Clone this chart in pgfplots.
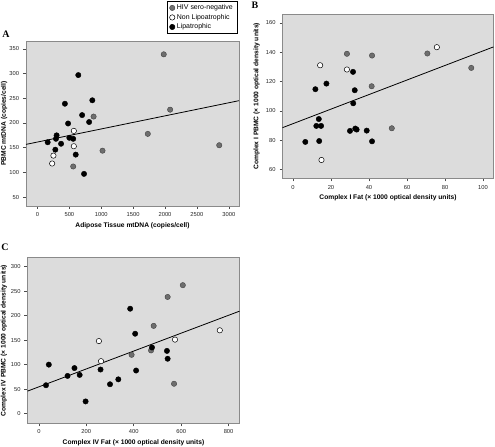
\documentclass[border=0pt]{standalone}
\usepackage{pgfplots}
\pgfplotsset{compat=1.18}
\usepackage{fontspec}
\setmainfont{Liberation Sans}
\newfontfamily\serifb{Liberation Serif}
\definecolor{bgc}{HTML}{DCDCDC}
\definecolor{axc}{HTML}{8A8A8A}
\definecolor{grayd}{HTML}{6E6E6E}
\pgfplotsset{
  panel/.style={
    scale only axis,
    axis background/.style={fill=bgc},
    axis line style={draw=axc, line width=0.9bp},
    tick style={draw=black!70, line width=0.5bp},
    tick align=outside,
    major tick length=3bp,
    xtick pos=bottom, ytick pos=left,
    ticklabel style={font=\fontsize{5.8}{6}\selectfont, text=black!85},
    label style={font=\bfseries\fontsize{6.7}{7.5}\selectfont},
    /pgf/number format/assume math mode=true,
    /pgf/number format/1000 sep={},
    yticklabel style={xshift=-0.5bp},
    xlabel style={at={(axis description cs:0.5,-0.118)}, anchor=center},
    clip=false,
  },
  gr/.style={only marks, mark=*, mark size=2.7pt, mark options={fill=grayd, draw=black!75, line width=0.4bp}},
  wh/.style={only marks, mark=*, mark size=2.7pt, mark options={fill=white, draw=black, line width=0.5bp}},
  bk/.style={only marks, mark=*, mark size=2.7pt, mark options={fill=black, draw=black}},
}
\begin{document}
\begin{tikzpicture}
\path[use as bounding box] (0,0) rectangle (495bp,447bp);
% Panel A
\begin{axis}[panel, at={(26bp,406bp)}, anchor=north west,
  width=213bp, height=165bp,
  xmin=-180, xmax=3160, ymin=32, ymax=366,
  xtick={0,500,...,3000}, ytick={50,100,...,350},
  xlabel={Adipose Tissue mtDNA (copies/cell)},
  ylabel={PBMC mtDNA (copies/cell)},
  ylabel style={at={(axis description cs:-0.103,0.5)}, anchor=center},
  legend style={at={(1,1)}, anchor=south east, xshift=-2bp, yshift=7bp,
    draw=black, line width=0.5bp, fill=white,
    font=\fontsize{7}{8}\selectfont, row sep=-1bp, inner xsep=2bp, inner ysep=1.5bp,
    legend cell align=left},
  legend image post style={}]
\addplot[gr] coordinates {(1980,339) (2080,227) (1730,178) (2850,155) (880,213) (1020,144) (560,112)};
\addlegendentry{HIV sero-negative}
\addplot[wh] coordinates {(570,184) (570,153) (250,134) (230,118)};
\addlegendentry{Non Lipoatrophic}
\addplot[bk] coordinates {(640,297) (860,246) (430,239) (700,216) (810,202) (480,199) (300,175) (290,168) (500,170) (560,168) (160,161) (370,158) (280,146) (600,136) (730,97)};
\addlegendentry{Lipatrophic}
\addplot[black, line width=0.8bp, forget plot] coordinates {(-180,156.7) (3160,245.2)};
\end{axis}
% Panel B
\begin{axis}[panel, at={(282.5bp,433bp)}, anchor=north west,
  width=211bp, height=164.5bp,
  xmin=-5.5, xmax=105.5, ymin=54, ymax=166,
  xtick={0,20,...,100}, ytick={60,80,...,160},
  xlabel={Complex I Fat (\texttimes{} 1000 optical density units)},
  ylabel={Complex I PBMC (\texttimes{} 1000 optical density units)},
  ylabel style={at={(axis description cs:-0.122,0.5)}, anchor=center}]
\addplot[gr] coordinates {(28.4,138.9) (41.6,137.7) (70.7,139.1) (93.8,129.3) (41.4,116.8) (52.0,88.2)};
\addplot[wh] coordinates {(14.3,131.1) (28.4,128.2) (75.7,143.4) (15.0,66.6)};
\addplot[bk] coordinates {(11.8,114.8) (17.6,118.6) (31.6,126.6) (32.5,114.1) (31.7,105.2) (13.6,94.5) (12.3,89.8) (14.8,89.8) (30.0,86.4) (32.8,88.0) (33.5,87.3) (38.8,86.6) (6.5,78.9) (13.8,79.5) (41.6,79.3)};
\addplot[black, line width=0.8bp] coordinates {(-5.5,88.6) (105.5,143.6)};
\end{axis}
% Panel C
\begin{axis}[panel, at={(27.5bp,189.3bp)}, anchor=north west,
  width=212bp, height=165.6bp,
  xmin=-48, xmax=846, ymin=-19.6, ymax=318,
  xtick={0,200,...,800}, ytick={0,50,...,300},
  xlabel={Complex IV Fat (\texttimes{} 1000 optical density units)},
  ylabel={Complex IV PBMC (\texttimes{} 1000 optical density units)},
  ylabel style={at={(axis description cs:-0.111,0.5)}, anchor=center}]
\addplot[gr] coordinates {(607,262) (543,238) (484,179) (391,120) (473,129) (570,61)};
\addplot[wh] coordinates {(253,148) (262,107) (574,151) (763,170)};
\addplot[bk] coordinates {(385,214) (406,163) (477,135) (540,128) (543,112) (410,88) (260,90) (335,70) (300,60) (197,25) (42,100) (150,93) (121,77) (172,79) (30,58)};
\addplot[black, line width=0.8bp] coordinates {(-48,46) (846,209)};
\end{axis}
\node[font=\serifb\bfseries\fontsize{10}{12}\selectfont] at (6bp,413bp) {A};
\node[font=\serifb\bfseries\fontsize{10}{12}\selectfont] at (255bp,442bp) {B};
\node[font=\serifb\bfseries\fontsize{10}{12}\selectfont] at (5bp,200bp) {C};
\end{tikzpicture}
\end{document}
